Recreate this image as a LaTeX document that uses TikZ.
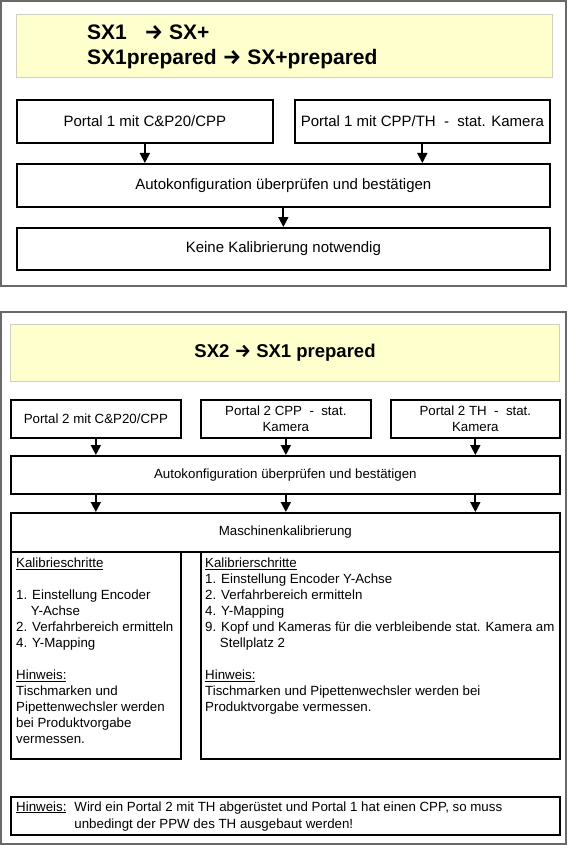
\documentclass[tikz,border=0pt]{standalone}
\usepackage{fontspec}
\setmainfont{Liberation Sans}
\newfontfamily\arrowfont{Fira Sans}
\usetikzlibrary{arrows.meta}
\definecolor{titleyellow}{RGB}{255,255,206}
\definecolor{titleline}{RGB}{208,208,192}
\definecolor{framegray}{RGB}{105,105,105}
\newcommand{\sxarrow}{{\arrowfont\bfseries →}}
\tikzset{>={Triangle[length=10pt,width=10pt]}}
\tikzset{
  panel/.style={draw=framegray, line width=1.2pt},
  titlebox/.style={draw=titleline, fill=titleyellow, line width=1pt, anchor=north west},
  stepbox/.style={draw, line width=1.7pt, inner sep=0pt, align=center, anchor=north west},
  flow/.style={->, line width=1.8pt},
  bigtext/.style={font=\fontsize{15}{18}\selectfont},
  smalltext/.style={font=\fontsize{13.3}{16}\selectfont},
}

\begin{document}
\begin{tikzpicture}[x=1pt,y=-1pt]
\useasboundingbox (0,0) rectangle (568,845);

  % upper panel: SX1 -> SX+
  \draw[panel] (1,1) rectangle (566,286);
  \node[titlebox, minimum width=536, minimum height=63] (title1) at (16,14) {};
  \node[anchor=west, align=left, inner sep=0pt, font=\fontsize{21}{25}\selectfont\bfseries] (title1text) at (87,46.5)
    {SX1\ \ \ \sxarrow{} SX+\\SX1prepared \sxarrow{} SX+prepared};

  \node[stepbox, bigtext, minimum width=256, minimum height=43] (p1a) at (16,99) {Portal 1 mit C\&P20/CPP};
  \node[stepbox, bigtext, minimum width=255, minimum height=43] (p1b) at (294,99) {Portal 1 mit CPP/TH\ \ -\ \ stat. Kamera};
  \node[stepbox, bigtext, minimum width=533, minimum height=43] (auto1) at (16,163) {Autokonfiguration überprüfen und bestätigen};
  \node[stepbox, bigtext, minimum width=533, minimum height=42] (none1) at (16,227) {Keine Kalibrierung notwendig};

  \draw[flow] (p1a) -- (p1a |- auto1.north);
  \draw[flow] (p1b) -- (p1b |- auto1.north);
  \draw[flow] (auto1) -- (none1);

  % lower panel: SX2 -> SX1 prepared
  \draw[panel] (1,312) rectangle (566,844);
  \node[titlebox, minimum width=549, minimum height=57, font=\fontsize{18.5}{22}\selectfont\bfseries] (title2) at (10,324) {SX2 \sxarrow{} SX1 prepared};

  \node[stepbox, smalltext, minimum width=170, minimum height=38] (p2a) at (10,399) {Portal 2 mit C\&P20/CPP};
  \node[stepbox, smalltext, minimum width=170, minimum height=38] (p2b) at (200,399) {Portal 2 CPP\ \ -\ \ stat.\\Kamera};
  \node[stepbox, smalltext, minimum width=169, minimum height=38] (p2c) at (390,399) {Portal 2 TH\ \ -\ \ stat.\\Kamera};
  \node[stepbox, smalltext, minimum width=549, minimum height=38] (auto2) at (10,455) {Autokonfiguration überprüfen und bestätigen};
  \node[stepbox, smalltext, minimum width=549, minimum height=39] (calib) at (10,512) {Maschinenkalibrierung};
  \node[stepbox, minimum width=170, minimum height=207] (colL) at (10,551) {};
  \node[stepbox, minimum width=359, minimum height=207] (colR) at (200,551) {};

  \foreach \p in {p2a,p2b,p2c}{
    \draw[flow] (\p) -- (\p |- auto2.north);
    \draw[flow] (auto2.south -| \p) -- (calib.north -| \p);
  }

  \node[smalltext, anchor=north west, align=left, inner sep=0pt] (stepsL) at (16,558)
    {\underline{Kalibrieschritte}\\[16pt]
     1. Einstellung Encoder\\
     \phantom{1.\ }Y-Achse\\
     2. Verfahrbereich ermitteln\\
     4. Y-Mapping\\[16pt]
     \underline{Hinweis:}\\
     Tischmarken und\\
     Pipettenwechsler werden\\
     bei Produktvorgabe\\
     vermessen.};
  \node[smalltext, anchor=north west, align=left, inner sep=0pt] (stepsR) at (205,558)
    {\underline{Kalibrierschritte}\\
     1. Einstellung Encoder Y-Achse\\
     2. Verfahrbereich ermitteln\\
     4. Y-Mapping\\
     9. Kopf und Kameras für die verbleibende stat. Kamera am\\
     \phantom{9.\ }Stellplatz 2\\[16pt]
     \underline{Hinweis:}\\
     Tischmarken und Pipettenwechsler werden bei\\
     Produktvorgabe vermessen.};

  % note at the bottom
  \node[stepbox, minimum width=549, minimum height=38] (note) at (10,796) {};
  \node[anchor=north west, inner sep=0pt, font=\fontsize{13.3}{17}\selectfont] (notetext) at (16,799)
    {\begin{tabular}{@{}l@{\hspace{8pt}}l@{}}
     \underline{Hinweis:} & Wird ein Portal 2 mit TH abgerüstet und Portal 1 hat einen CPP, so muss\\
     & unbedingt der PPW des TH ausgebaut werden!
     \end{tabular}};

\end{tikzpicture}
\end{document}
